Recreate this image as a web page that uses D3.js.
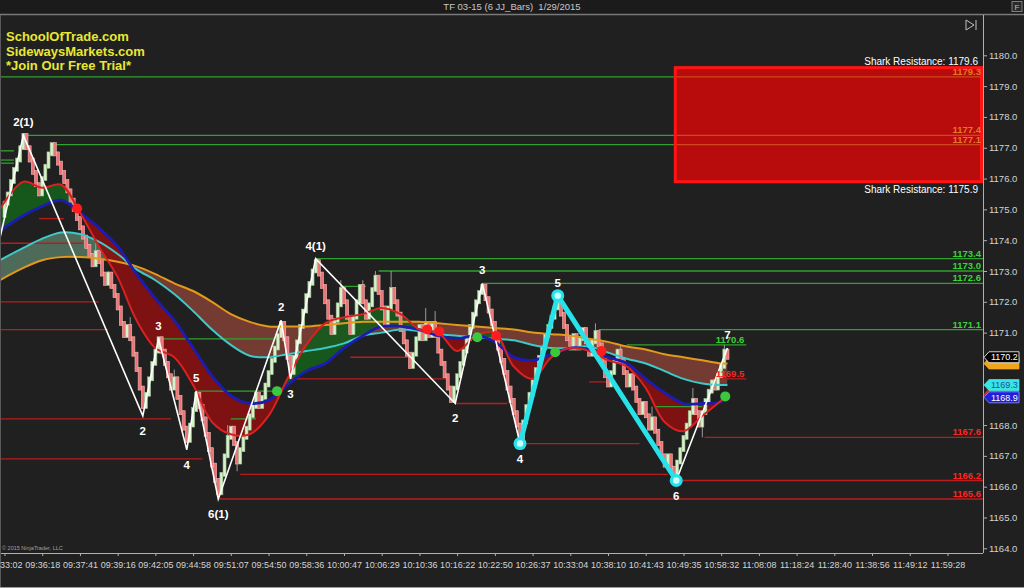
<!DOCTYPE html>
<html><head><meta charset="utf-8">
<script src="https://cdn.jsdelivr.net/npm/d3@7"></script>
<style>body{margin:0;background:#202020;overflow:hidden}svg{display:block}</style>
</head><body><svg id="c" width="1024" height="588"></svg>
<script>
// ---------------- DATA ----------------
const title = "TF 03-15 (6 JJ_Bars)  1/29/2015";
const promoLines = ["SchoolOfTrade.com", "SidewaysMarkets.com", "*Join Our Free Trial*"];
const timeLabels = ["09:33:02","09:36:18","09:37:41","09:39:16","09:42:05","09:44:58","09:51:07","09:54:50","09:58:36","10:00:47","10:06:29","10:10:36","10:16:22","10:22:50","10:26:37","10:33:04","10:38:10","10:41:43","10:49:35","10:58:32","11:08:08","11:18:24","11:28:40","11:38:56","11:49:12","11:59:28"];
const barsPerLabel = 12;
const yTicks = [1164,1165,1166,1167,1168,1169,1170,1171,1172,1173,1174,1175,1176,1177,1178,1179,1180];
const firstOpen = 1174.8;
const closes = [
1175.2,1175.5,1175.9,1176.3,1176.6,1177.0,1177.4,1177.0,1176.6,1176.2,
1175.8,1175.5,1176.0,1176.4,1176.8,1177.1,1176.8,1176.5,1176.2,1175.9,
1175.6,1175.3,1175.0,1174.7,1174.4,1174.1,1173.8,1173.5,1173.2,1173.6,
1173.3,1172.9,1172.6,1172.9,1172.5,1172.2,1171.8,1171.3,1170.9,1171.2,
1170.8,1170.3,1169.8,1169.2,1168.6,1169.0,1169.5,1170.0,1170.4,1170.8,
1170.4,1170.0,1169.6,1169.2,1169.5,1168.9,1168.4,1167.9,1167.5,1168.0,
1168.5,1169.0,1168.6,1168.2,1167.7,1167.2,1166.7,1166.2,1165.8,1166.4,
1167.0,1167.6,1167.9,1167.4,1166.8,1167.2,1167.6,1167.9,1168.3,1168.6,
1169.0,1168.6,1168.9,1169.3,1169.7,1170.1,1170.5,1170.9,1171.3,1170.8,
1170.2,1169.7,1170.2,1170.7,1171.2,1171.7,1172.2,1172.6,1173.0,1173.3,
1172.9,1172.5,1172.0,1171.5,1171.0,1171.4,1171.9,1172.4,1172.0,1171.5,
1171.0,1171.5,1172.0,1172.5,1172.0,1171.5,1171.9,1172.4,1172.8,1172.3,
1171.8,1171.3,1171.8,1172.4,1172.0,1171.6,1171.1,1170.7,1170.3,1169.9,
1170.3,1170.8,1171.2,1170.8,1171.3,1170.9,1171.3,1170.9,1170.4,1170.0,
1169.6,1169.2,1168.8,1169.2,1169.6,1170.0,1170.4,1170.8,1171.2,1171.6,
1172.0,1172.3,1172.5,1172.1,1171.7,1171.3,1170.9,1170.5,1170.1,1169.7,
1169.2,1168.8,1168.4,1168.0,1167.6,1168.1,1168.6,1169.0,1169.4,1169.8,
1170.2,1170.5,1170.9,1171.2,1171.5,1171.8,1172.0,1171.6,1171.2,1170.8,
1170.5,1170.9,1170.5,1170.8,1171.1,1170.7,1170.3,1170.7,1171.0,1170.6,
1170.1,1169.6,1169.3,1169.7,1170.1,1170.4,1170.1,1169.7,1169.3,1169.6,
1169.2,1168.8,1168.4,1168.7,1168.3,1167.9,1168.2,1167.8,1167.4,1167.0,
1166.7,1167.0,1166.6,1166.4,1166.8,1167.2,1167.6,1168.0,1168.4,1168.8,
1168.4,1168.0,1168.4,1168.8,1169.1,1169.4,1169.2,1169.6,1169.9,1170.4,
1170.2];
// sparse wicks: [bar, high, low]
const wicks = [[29,1173.9,null],[33,1173.0,null],[40,1171.5,null],[54,1169.8,null],[71,1168.0,null],[74,null,1166.5],
[107,1172.7,null],[114,1172.7,null],[118,1173.0,null],[123,1173.0,null],[134,1171.8,null],[137,1171.7,null],
[156,1171.3,null],[188,1171.3,null],[196,1170.6,null],[206,1168.6,null],[219,1169.2,null],[222,null,1167.6],[229,1170.6,null]];
// moving averages sampled at bar indices
const maIndex = [-1.5,6,12,18,24,30,36,42,48,54,60,66,72,78,84,90,96,102,108,114,120,126,132,138,144,150,156,162,168,174,180,186,192,198,204,210,216,222,228,230];
const maRed = [1175.0,1175.9,1175.7,1175.8,1174.9,1173.8,1172.8,1171.4,1170.5,1170.2,1169.3,1168.1,1167.7,1167.7,1168.3,1169.5,1170.6,1171.3,1171.5,1171.6,1171.8,1171.6,1171.1,1171.0,1170.4,1170.9,1171.0,1169.9,1169.5,1170.2,1170.5,1170.4,1170.1,1169.9,1169.2,1168.1,1167.8,1168.3,1168.8,1169.0];
const maBlue = [1174.3,1174.8,1175.1,1175.3,1174.9,1174.4,1173.8,1172.9,1172.1,1171.4,1170.5,1169.6,1168.95,1168.7,1168.8,1169.3,1169.75,1170.0,1170.5,1170.9,1171.2,1171.2,1171.1,1170.9,1170.8,1170.9,1170.7,1170.2,1170.1,1170.3,1170.5,1170.45,1170.2,1170.0,1169.5,1169.05,1168.7,1168.7,1168.75,1168.9];
const maCyan = [1173.35,1173.75,1174.05,1174.25,1174.2,1173.95,1173.55,1173.05,1172.7,1172.25,1171.7,1171.1,1170.6,1170.25,1170.2,1170.3,1170.4,1170.5,1170.65,1170.9,1171.0,1171.1,1171.05,1170.95,1170.9,1170.85,1170.8,1170.75,1170.6,1170.5,1170.5,1170.55,1170.35,1170.15,1170.0,1169.75,1169.5,1169.35,1169.3,1169.3];
const maOrange = [1172.7,1173.1,1173.35,1173.45,1173.45,1173.4,1173.3,1173.15,1172.9,1172.6,1172.35,1172.0,1171.6,1171.35,1171.2,1171.2,1171.2,1171.25,1171.3,1171.35,1171.35,1171.35,1171.35,1171.3,1171.25,1171.2,1171.15,1171.1,1171.0,1170.95,1170.9,1170.8,1170.7,1170.55,1170.45,1170.3,1170.2,1170.1,1170.0,1170.0];
// swing zigzag
const zigzag = [[-1.5,1174.05],[6,1177.4],[44,1168.3],[49,1170.8],[58,1167.2],[61,1169.1],[68,1165.6],[88,1171.4],[91,1169.5],[99,1173.4],[143.4,1168.7],[152,1172.6],[164,1167.4],[176,1172.2],[213.7,1166.2],[230,1170.5]];
const cyanLeg = [[164,1167.4],[176,1172.2],[213.7,1166.2]];
const swingLabels = [[6,1177.4,"2(1)",-1],[44,1168.3,"2",1],[49,1170.8,"3",-1],[58,1167.2,"4",1],[61,1169.1,"5",-1],[68,1165.6,"6(1)",1],[88,1171.4,"2",-1],[91,1169.5,"3",1],[99,1173.4,"4(1)",-1],[143.4,1168.7,"2",1],[152,1172.6,"3",-1],[164,1167.4,"4",1],[176,1172.2,"5",-1],[213.7,1166.2,"6",1],[230,1170.5,"7",-1]];
const signalDots = [[23.1,1175.03,"r"],[86.7,1169.1,"g"],[134.5,1171.1,"r"],[138.3,1171.04,"r"],[150.4,1170.85,"g"],[156.4,1170.9,"r"],[175.2,1170.36,"g"],[189.9,1170.4,"r"],[229.3,1168.93,"g"]];
// levels: [startBar, endBar (null = to axis), price, kind, label]
const levels = [
[-2,null,1179.3,"g","1179.3"],[6,null,1177.4,"g","1177.4"],[15,null,1177.1,"g","1177.1"],
[99,null,1173.4,"g","1173.4"],[119,null,1173.0,"g","1173.0"],[152,null,1172.6,"g","1172.6"],
[189,null,1171.1,"g","1171.1"],[198,236,1170.6,"g","1170.6"],
[-2,3,1176.9,"g"],[-2,3,1176.6,"g"],[-2,3,1176.5,"g"],[49,87,1170.8,"g"],[61,87,1169.1,"g"],
[72,80,1168.2,"g"],[107,115,1172.5,"g"],[207,222,1168.6,"g"],
[68,null,1165.6,"r","1165.6"],[213.7,null,1166.2,"r","1166.2"],[222.7,null,1167.6,"r","1167.6"],
[225,236,1169.5,"r","1169.5"],
[11,19,1174.7,"r"],[-2,25,1173.9,"r"],[-2,30,1172.0,"r"],[-2,33,1171.1,"r"],[-2,53,1168.2,"r"],
[-2,63,1166.9,"r"],[75,211,1166.4,"r"],[91,141,1169.5,"r"],[110,130,1170.2,"r"],
[143.4,160,1168.7,"r"],[164,202,1167.4,"r"],[186,194,1169.4,"r"]];
const zoneStartBar = 213.4;
const zoneLow = 1175.9, zoneHigh = 1179.6;
const zoneLabels = ["Shark Resistance: 1179.6", "Shark Resistance: 1175.9"];
// right-axis price markers: [price, fill, text colour (null = hidden), stroke]
const priceMarkers = [[1170.0,"#f0a41c",null,"#f0a41c"],[1170.2,"#000000","#ffffff","#ffffff"],[1169.0,"#e02020",null,"#e02020"],[1169.3,"#38e4e4","#2050a0","#38e4e4"],[1168.9,"#2020d8","#ffffff","#9090ff"]];

// ---------------- CHART ----------------
const svg = d3.select("#c");
const W = 1024, H = 588;
const L = 1, R = 983, T = 15, B = 553;
const FONT = "Liberation Sans, Arial, sans-serif";
const x = d3.scaleLinear().domain([0, barsPerLabel*(timeLabels.length-1)]).range([4.5, 947.5]);
const y = d3.scaleLinear().domain([1164, 1180]).range([548.3, 55.3]);

svg.append("rect").attr("width",W).attr("height",H).attr("fill","#202020");
svg.append("rect").attr("x",0).attr("y",0).attr("width",W).attr("height",T).attr("fill","#1b1b1b");
svg.append("line").attr("x1",0).attr("x2",W).attr("y1",T-0.5).attr("y2",T-0.5).attr("stroke","#7a7a7a").attr("stroke-width",1.5);
svg.append("line").attr("x1",0.5).attr("x2",0.5).attr("y1",T).attr("y2",H).attr("stroke","#5a5a5a");
svg.append("line").attr("x1",0).attr("x2",W).attr("y1",H-0.5).attr("y2",H-0.5).attr("stroke","#9a9a9a");

svg.append("text").attr("x",512).attr("y",10).attr("text-anchor","middle")
  .attr("font-family",FONT).attr("font-size",9.5).attr("fill","#c8c8c8").text(title).style("white-space","pre");

const defs = svg.append("defs");
defs.append("clipPath").attr("id","plot").append("rect").attr("x",L).attr("y",T).attr("width",R-L).attr("height",B-T);

const g = svg.append("g").attr("clip-path","url(#plot)");

function twoTone(upper, lower, colAbove, colBelow, name){
  const xs = (d,k)=>x(maIndex[k]);
  const cv = d3.curveCatmullRom;
  defs.append("clipPath").attr("id",name+"A").append("path")
    .attr("d", d3.area().x(xs).y0(0).y1((d,k)=>y(lower[k])).curve(cv)(maIndex));
  defs.append("clipPath").attr("id",name+"B").append("path")
    .attr("d", d3.area().x(xs).y0((d,k)=>y(lower[k])).y1(H).curve(cv)(maIndex));
  const ar = d3.area().x(xs).y0((d,k)=>y(upper[k])).y1((d,k)=>y(lower[k])).curve(cv);
  g.append("path").attr("d",ar(maIndex)).attr("fill",colAbove).attr("clip-path",`url(#${name}A)`);
  g.append("path").attr("d",ar(maIndex)).attr("fill",colBelow).attr("clip-path",`url(#${name}B)`);
}
twoTone(maCyan, maOrange, "rgba(115,170,135,0.55)", "rgba(175,80,62,0.58)", "co");
twoTone(maRed, maBlue, "rgba(22,92,28,0.92)", "rgba(135,16,16,0.92)", "rb");

// level lines
const lv = g.append("g");
levels.forEach(l=>{
  const x1 = x(l[0]), x2 = l[1]===null ? R : x(l[1]);
  lv.append("line").attr("x1",x1).attr("x2",x2).attr("y1",y(l[2])).attr("y2",y(l[2]))
    .attr("stroke", l[3]==="g" ? "#30a030" : "#b81c1c").attr("stroke-width",1.3);
});

// zone box
const zx = x(zoneStartBar);
g.append("rect").attr("x",zx).attr("y",y(zoneHigh)).attr("width",R-zx-1.5).attr("height",y(zoneLow)-y(zoneHigh))
  .attr("fill","#b80c0c").attr("stroke","#ff1414").attr("stroke-width",3);
levels.filter(l=>l[2]>zoneLow && l[2]<zoneHigh && l[1]===null).forEach(l=>{
  g.append("line").attr("x1",zx+1.5).attr("x2",R-3).attr("y1",y(l[2])).attr("y2",y(l[2]))
    .attr("stroke","#e07028").attr("stroke-opacity",0.6).attr("stroke-width",1.2);
});

// bars
const bw = 3.0, pad = 2;
const barG = g.append("g");
wicks.forEach(w=>{
  const c = closes[w[0]];
  const o = w[0]===0 ? firstOpen : closes[w[0]-1];
  const hi = w[1]!==null ? w[1] : Math.max(o,c);
  const lo = w[2]!==null ? w[2] : Math.min(o,c);
  barG.append("line").attr("x1",x(w[0])).attr("x2",x(w[0])).attr("y1",y(hi)).attr("y2",y(lo))
    .attr("stroke","#9a9a9a").attr("stroke-width",1);
});
closes.forEach((c,i)=>{
  const o = i===0 ? firstOpen : closes[i-1];
  const up = c >= o;
  const top = y(Math.max(o,c)) - pad, bot = y(Math.min(o,c)) + pad;
  barG.append("rect").attr("x",x(i)-bw/2).attr("y",top).attr("width",bw).attr("height",bot-top)
    .attr("fill", up ? "#d6f2c8" : "#ec7474").attr("stroke", up ? "#9cbc92" : "#f7b8b8").attr("stroke-width",0.6);
});

// MA lines
const line = arr => d3.line().x((d,k)=>x(maIndex[k])).y((d,k)=>y(arr[k])).curve(d3.curveCatmullRom)(maIndex);
g.append("path").attr("d",line(maOrange)).attr("fill","none").attr("stroke","#e39a1a").attr("stroke-width",2);
g.append("path").attr("d",line(maCyan)).attr("fill","none").attr("stroke","#3ccaca").attr("stroke-width",2);
g.append("path").attr("d",line(maBlue)).attr("fill","none").attr("stroke","#1c1cb0").attr("stroke-width",2.8);
g.append("path").attr("d",line(maRed)).attr("fill","none").attr("stroke","#d82222").attr("stroke-width",2);

// zigzag
const zl = d3.line().x(d=>x(d[0])).y(d=>y(d[1]));
g.append("path").attr("d",zl(zigzag)).attr("fill","none").attr("stroke","#ffffff").attr("stroke-width",1.6);
g.append("path").attr("d",zl(cyanLeg)).attr("fill","none").attr("stroke","#28e2ea").attr("stroke-width",5).attr("stroke-linejoin","round");
cyanLeg.forEach(d=>{
  g.append("circle").attr("cx",x(d[0])).attr("cy",y(d[1])).attr("r",6.5).attr("fill","#28e2ea");
  g.append("circle").attr("cx",x(d[0])).attr("cy",y(d[1])).attr("r",3.2).attr("fill","#c8ffff");
});

// signal dots
signalDots.forEach(d=>{
  g.append("circle").attr("cx",x(d[0])).attr("cy",y(d[1])).attr("r",5)
    .attr("fill", d[2]==="r" ? "#ff1c1c" : "#3cc83c");
});

// level labels
levels.filter(l=>l[4]).forEach(l=>{
  const inZone = l[2]>zoneLow && l[2]<zoneHigh;
  const xe = l[1]===null ? R-2 : x(l[1])-2;
  g.append("text").attr("x",xe).attr("y",y(l[2])-2).attr("text-anchor","end")
    .attr("font-family",FONT).attr("font-size",9.5).attr("font-weight","bold")
    .attr("fill", inZone ? "#e8742a" : (l[3]==="g" ? "#36d636" : "#ff2424")).text(l[4]);
});
g.append("text").attr("x",R-5).attr("y",y(zoneHigh)-3).attr("text-anchor","end")
  .attr("font-family",FONT).attr("font-size",10).attr("fill","#ffffff").text(zoneLabels[0]);
g.append("text").attr("x",R-5).attr("y",y(zoneLow)+11).attr("text-anchor","end")
  .attr("font-family",FONT).attr("font-size",10).attr("fill","#ffffff").text(zoneLabels[1]);

// swing labels
swingLabels.forEach(d=>{
  g.append("text").attr("x",x(d[0])).attr("y", d[3]<0 ? y(d[1])-9 : y(d[1])+19).attr("text-anchor","middle")
    .attr("font-family",FONT).attr("font-size",11.5).attr("font-weight","bold").attr("fill","#ffffff").text(d[2]);
});

// promo text
promoLines.forEach((t,k)=>{
  svg.append("text").attr("x",6).attr("y",41+k*14.5).attr("font-family",FONT)
    .attr("font-size",13).attr("font-weight","bold").attr("fill","#e8e834").text(t);
});

// axes (tick labels hidden where a price marker sits on top of them)
const covered = v => priceMarkers.some(m => Math.abs(y(m[0]) - y(v)) < 9);
const yAx = svg.append("g").attr("transform",`translate(${R},0)`)
  .call(d3.axisRight(y).tickValues(yTicks).tickSize(4).tickFormat(v => covered(v) ? "" : d3.format(".1f")(v)));
yAx.select(".domain").attr("stroke","#b0b0b0").attr("d",`M0.5,${T}V${B}`);
yAx.selectAll(".tick line").attr("stroke","#b0b0b0");
yAx.selectAll("text").attr("fill","#d4d4d4").attr("font-size",9.5).attr("font-family",FONT).attr("x",6);

const xAx = svg.append("g").attr("transform",`translate(0,${B})`)
  .call(d3.axisBottom(x).tickValues(timeLabels.map((t,k)=>k*barsPerLabel)).tickSize(3).tickFormat((d,k)=>timeLabels[k]));
xAx.select(".domain").attr("stroke","#b0b0b0").attr("d",`M${L},0.5H${R}`);
xAx.selectAll(".tick line").attr("stroke","#b0b0b0");
xAx.selectAll("text").attr("fill","#d4d4d4").attr("font-size",9).attr("font-family",FONT).attr("dy","0.95em");

// price markers
priceMarkers.forEach(m=>{
  const py = y(m[0]);
  svg.append("path").attr("d",`M${R+1},${py} L${R+6},${py-5.5} H1019 V${py+5.5} H${R+6} Z`)
    .attr("fill",m[1]).attr("stroke",m[3]).attr("stroke-width",0.8);
  if (m[2]) svg.append("text").attr("x",R+8).attr("y",py+3.2).attr("font-family",FONT)
    .attr("font-size",9).attr("fill",m[2]).text(m[0].toFixed(1));
});

svg.append("text").attr("x",2).attr("y",550).attr("font-family",FONT).attr("font-size",5.5)
  .attr("fill","#a0a0a0").text("© 2015 NinjaTrader, LLC");

svg.append("path").attr("d","M966,20 L974,25 L966,30 Z M976,20 V30").attr("fill","none").attr("stroke","#c0c0c0").attr("stroke-width",1);
svg.append("rect").attr("x",1012).attr("y",1.5).attr("width",10).attr("height",10).attr("fill","#2a2a2a").attr("stroke","#808080");
svg.append("text").attr("x",1017).attr("y",10).attr("text-anchor","middle").attr("font-family",FONT).attr("font-size",8).attr("fill","#c0c0c0").text("F");
</script></body></html>
